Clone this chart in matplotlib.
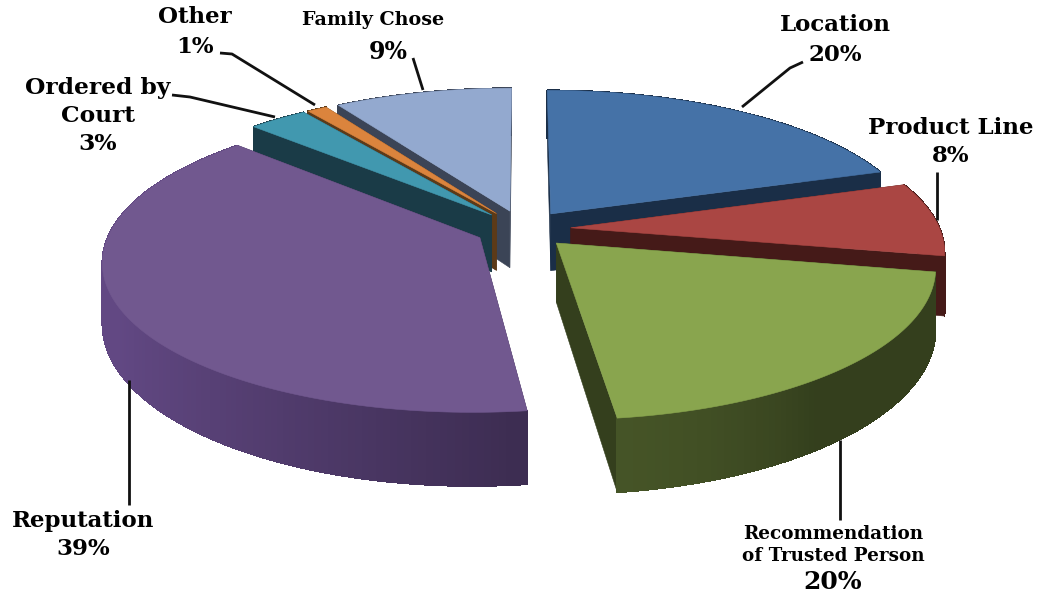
import numpy as np
import matplotlib
matplotlib.use("Agg")
import matplotlib.pyplot as plt
from matplotlib.patches import Polygon

# ---------- data ----------
categories = ["Location", "Product Line", "Recommendation\nof Trusted Person",
              "Reputation", "Ordered by\nCourt", "Other", "Family Chose"]
values = [20, 8, 20, 39, 3, 1, 9]
top_colors = ["#4572a7", "#aa4643", "#89a54e", "#71588f", "#4198af", "#db843d", "#93a9cf"]
wall_colors = ["#1a2e47", "#451a18", "#343f1d", "#3d2d52", "#1a3b47", "#5c3a18", "#3b4456"]
draw_order = [6, 5, 4, 0, 1, 3, 2]

# ---------- projection of the tilted pie, in image pixels ----------
CX, CY = 523, 229
RX, RY = 369, 146
PERSP = 0.148
DEPTH = 58
EXPLODE = 0.13


def project(x, y, down=False):
    s = 1 / (1 + PERSP * y)
    px = CX + RX * x * s
    py = CY - RY * y * s
    if down:
        py = py + DEPTH / (1 + 0.2 * y)
    return px, py


fig = plt.figure(figsize=(10.41, 5.98), dpi=100, facecolor="white")
ax = fig.add_axes([0, 0, 1, 1])
ax.set_xlim(0, 1041)
ax.set_ylim(598, 0)
ax.axis("off")

edges = np.cumsum([0] + values) / sum(values) * 2 * np.pi

for i in draw_order:
    t0, t1 = edges[i], edges[i + 1]
    mid = (t0 + t1) / 2
    ax0 = EXPLODE * np.sin(mid)
    ay0 = EXPLODE * np.cos(mid)
    t = np.linspace(t0, t1, max(6, int((t1 - t0) * 60)))
    xs = ax0 + np.sin(t)
    ys = ay0 + np.cos(t)

    # side walls running from the centre to the rim
    for tt in (t0, t1):
        wx = [ax0, ax0 + np.sin(tt)]
        wy = [ay0, ay0 + np.cos(tt)]
        top = [project(wx[k], wy[k]) for k in range(2)]
        bot = [project(wx[k], wy[k], True) for k in (1, 0)]
        ax.add_patch(Polygon(top + bot, closed=True, fc=wall_colors[i], ec=wall_colors[i], lw=0.4, zorder=2))

    # rim, shaded a little along its length
    base = np.array(matplotlib.colors.to_rgb(wall_colors[i]))
    for k in range(len(t) - 1):
        shade = 1.0
        if categories[i] == "Reputation":
            # lighter on the left, darker toward the cut edge
            shade = 1.0 + 0.6 * max(0, min(1, (-np.sin(t[k]) + 0.1)))
        elif "Recommendation" in categories[i]:
            # a little lighter at the front corner
            shade = 1.0 + 0.35 * max(0, (-np.cos(t[k]) - 0.8) / 0.2)
        col = np.clip(base * shade, 0, 1)
        q = [project(xs[k], ys[k]), project(xs[k + 1], ys[k + 1]),
             project(xs[k + 1], ys[k + 1], True), project(xs[k], ys[k], True)]
        ax.add_patch(Polygon(q, closed=True, fc=col, ec=col, lw=0.6, antialiased=False, zorder=2))

    # top face
    outline = [project(ax0, ay0)] + [project(xs[k], ys[k]) for k in range(len(t))]
    ax.add_patch(Polygon(outline, closed=True, fc=top_colors[i], ec=top_colors[i], lw=0.4, zorder=2))

# ---------- labels and leader lines ----------
label_font = dict(family="DejaVu Serif", weight="bold", color="black", ha="center", va="center", zorder=5)
label_pos = [(835, 40), (951, 142), (833, 545), (83, 535), (98, 116), (195, 32), (373, 20)]
label_sizes = [16.5, 16.5, 13.2, 16.5, 16.8, 16.5, 13.8]
label_spacing = [1.42, 1.35, 1.3, 1.4, 1.38, 1.42, 1.4]
pct_offset = {2: (0, 37), 6: (15, 32)}  # these two have a bigger percent line of their own
pct_size = {2: 18, 6: 17}
leaders = [
    [(803, 62), (790, 68), (742, 107)],
    [(937, 172), (937, 220)],
    [(840, 440), (840, 520)],
    [(129, 380), (129, 505)],
    [(172, 95), (190, 97), (275, 117)],
    [(220, 53), (232, 54), (315, 105)],
    [(413, 58), (423, 90)],
]
for i, cat in enumerate(categories):
    pts = np.array(leaders[i])
    ax.plot(pts[:, 0], pts[:, 1], color="#111111", lw=2, zorder=4, solid_capstyle="butt")
    x, y = label_pos[i]
    if i in pct_offset:
        ax.text(x, y, cat, fontsize=label_sizes[i], linespacing=label_spacing[i], **label_font)
        dx, dy = pct_offset[i]
        ax.text(x + dx, y + dy, f"{values[i]}%", fontsize=pct_size[i], **label_font)
    else:
        ax.text(x, y, f"{cat}\n{values[i]}%", fontsize=label_sizes[i], linespacing=label_spacing[i], **label_font)

fig.savefig("out.png", dpi=100)
